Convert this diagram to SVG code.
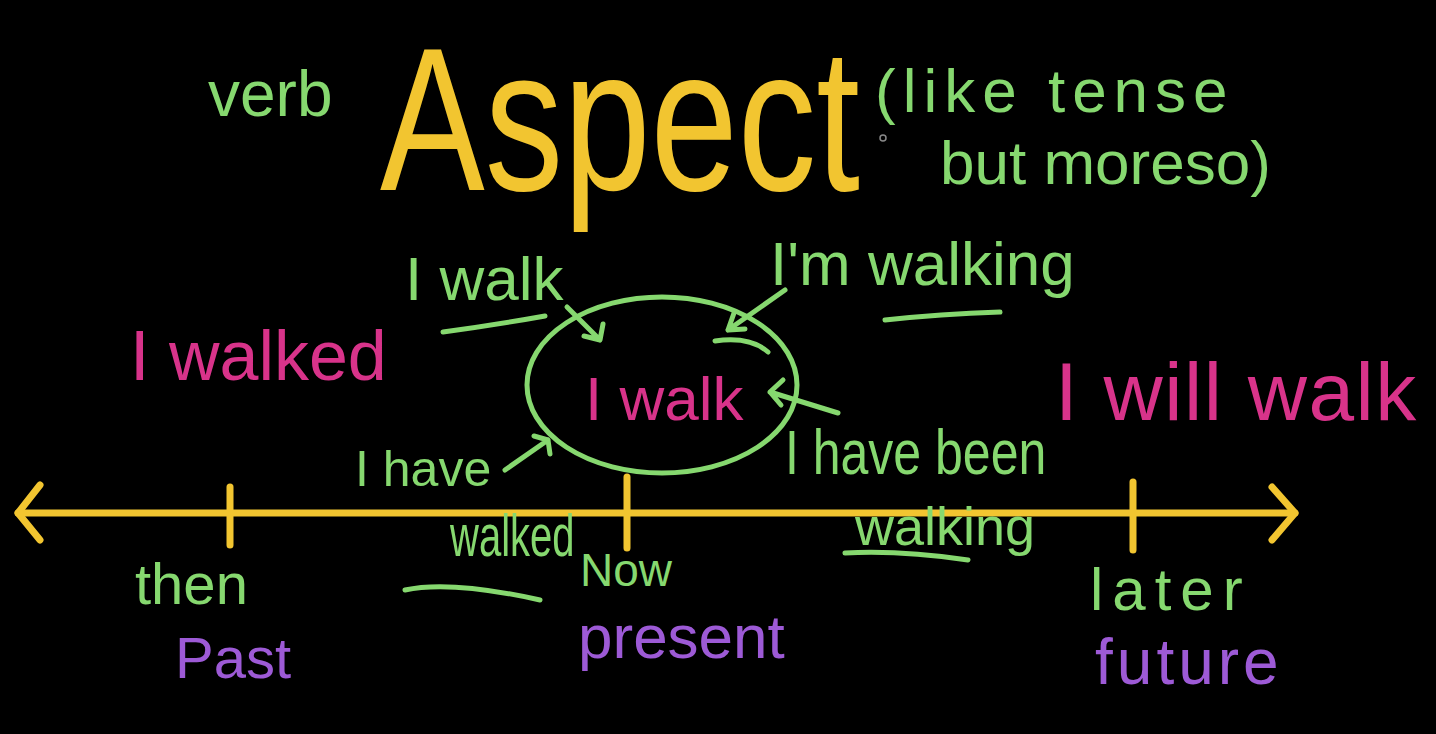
<svg xmlns="http://www.w3.org/2000/svg" width="1436" height="734" viewBox="0 0 1436 734">
<style>
text{font-family:"Liberation Sans","Open Sans",sans-serif;}
.g{fill:#86d86f}
.y{fill:#f2c530}
.m{fill:#d8338a}
.p{fill:#9d5ad6}
.gs{stroke:#86d86f;stroke-width:5;fill:none;stroke-linecap:round;stroke-linejoin:round}
.ys{stroke:#f2c530;stroke-width:7;fill:none;stroke-linecap:round;stroke-linejoin:round}
</style>
<rect width="1436" height="734" fill="#000"/>
<g id="title">
<text class="g" x="208" y="116" font-size="64">verb</text>
<text class="y" transform="translate(380,190) scale(1,1.3)" x="0" y="0" font-size="157">Aspect</text>
<text class="g" x="875" y="112" font-size="62" letter-spacing="7">(like tense</text>
<text class="g" x="940" y="184" font-size="62">but moreso)</text>
<circle cx="883" cy="138" r="3" fill="none" stroke="#888" stroke-width="1.5"/>
</g>
<g id="timeline">
<path class="ys" d="M18,513 L1295,513"/>
<path class="ys" d="M40,485 L18,513 L40,540"/>
<path class="ys" d="M1272,487 L1295,513 L1272,540"/>
<path class="ys" d="M230,487 L230,545" stroke-width="5"/>
<path class="ys" d="M627,477 L627,548" stroke-width="5"/>
<path class="ys" d="M1133,482 L1133,550" stroke-width="5"/>
</g>
<g id="center">
<ellipse class="gs" cx="662" cy="385" rx="135" ry="88"/>
<text class="m" x="585" y="420" font-size="62">I walk</text>
</g>
<g id="i-walk">
<text class="g" x="405" y="300" font-size="62">I walk</text>
<path class="gs" d="M443,332 Q495,325 545,316"/>
</g>
<g id="im-walking">
<text class="g" x="770" y="285" font-size="62">I'm walking</text>
<path class="gs" d="M885,320 Q940,314 1000,312"/>
</g>
<g id="i-have-walked">
<text class="g" x="355" y="486" font-size="50">I have</text>
<text class="g" transform="translate(450,556) scale(1,1.5)" x="0" y="0" font-size="40">walked</text>
<path class="gs" d="M405,590 Q450,580 540,600"/>
</g>
<g id="i-have-been-walking">
<text class="g" transform="translate(785,474) scale(1,1.25)" x="0" y="0" font-size="50">I have been</text>
<text class="g" x="855" y="545" font-size="54">walking</text>
<path class="gs" d="M845,553 Q900,550 968,560"/>
</g>
<g id="i-walked">
<text class="m" x="130" y="380" font-size="70">I walked</text>
</g>
<g id="i-will-walk">
<text class="m" x="1055" y="420" font-size="82" letter-spacing="1.5">I will walk</text>
</g>
<g id="past">
<text class="g" x="135" y="604" font-size="58">then</text>
<text class="p" x="175" y="678" font-size="58">Past</text>
</g>
<g id="present">
<text class="g" x="580" y="586" font-size="46">Now</text>
<text class="p" x="578" y="658" font-size="62">present</text>
</g>
<g id="future">
<text class="g" x="1090" y="610" font-size="60" letter-spacing="9">later</text>
<text class="p" x="1095" y="684" font-size="64" letter-spacing="4">future</text>
</g>
<g id="connectors">
<path class="gs" d="M567,307 L600,340 M584,336 L600,340 L603,324"/>
<path class="gs" d="M785,290 L728,330 M745,329 L728,330 L734,313"/>
<path class="gs" d="M838,413 L770,392 M783,380 L770,392 L781,405"/>
<path class="gs" d="M505,470 L548,440 M534,436 L548,440 L550,454"/>
<path class="gs" d="M715,341 Q750,336 768,352"/>
</g>
</svg>
